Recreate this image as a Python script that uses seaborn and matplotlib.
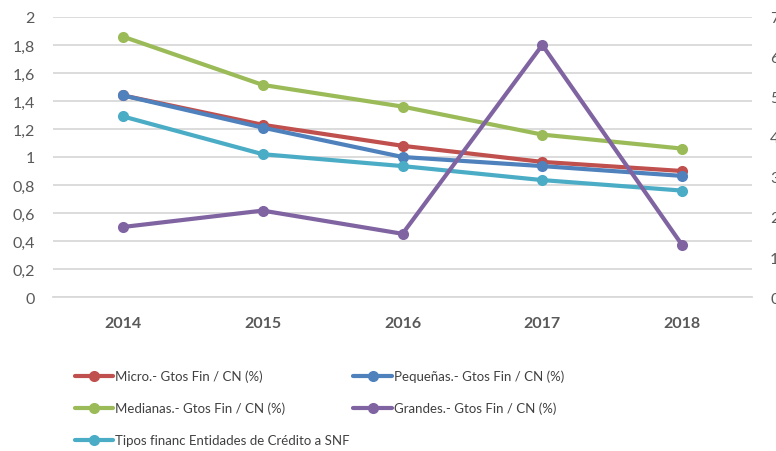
import numpy as np
import pandas as pd
import matplotlib
matplotlib.use("Agg")
import matplotlib.pyplot as plt
import seaborn as sns
from matplotlib.ticker import FuncFormatter

# ---- data ----
years = [2014, 2015, 2016, 2017, 2018]
micro = [1.44, 1.23, 1.08, 0.965, 0.90]
pequenas = [1.44, 1.21, 1.00, 0.935, 0.865]
medianas = [1.86, 1.515, 1.36, 1.16, 1.06]
tipos = [1.29, 1.02, 0.935, 0.835, 0.76]
grandes = [1.75, 2.16, 1.58, 6.3, 1.3]  # secondary axis

names = ["Micro.- Gtos Fin / CN (%)", "Pequeñas.- Gtos Fin / CN (%)",
         "Medianas.- Gtos Fin / CN (%)", "Grandes.- Gtos Fin / CN (%)",
         "Tipos financ Entidades de Crédito a SNF"]
colors = ["#C0504D", "#4F81BD", "#9BBB59", "#8064A2", "#4BACC6"]

left = pd.DataFrame({"year": years * 4,
                     "value": micro + pequenas + medianas + tipos,
                     "serie": [names[0]] * 5 + [names[1]] * 5 + [names[2]] * 5 + [names[4]] * 5})
right = pd.DataFrame({"year": years, "value": grandes, "serie": names[3]})

sns.set_theme(style="white")
plt.rcParams["font.family"] = ["Lato", "DejaVu Sans"]

fig = plt.figure(figsize=(7.76, 4.52), dpi=100)
ax = fig.add_axes([53 / 776, 1 - 298 / 452, 699 / 776, 280 / 452])
ax2 = ax.twinx()

line_kw = dict(linewidth=3, marker="o", markersize=8, markeredgewidth=0)
sns.lineplot(data=left, x="year", y="value", hue="serie",
             palette={n: c for n, c in zip(names, colors)},
             hue_order=[names[0], names[1], names[2], names[4]],
             ax=ax, legend=False, **line_kw)
sns.lineplot(data=right, x="year", y="value", color=colors[3],
             ax=ax2, legend=False, **line_kw)
ax2.set_zorder(ax.get_zorder() + 1)
ax2.patch.set_visible(False)

ax.set_xlim(2013.5, 2018.5)
ax.set_ylim(0, 2)
ax2.set_ylim(0, 7)
ax.set_yticks(np.arange(0, 2.01, 0.2))
ax2.set_yticks(range(8))
ax.set_xticks(years)
ax.yaxis.set_major_formatter(FuncFormatter(lambda v, p: f"{v:.1f}".rstrip("0").rstrip(".").replace(".", ",")))
ax.grid(axis="y", color="#D9D9D9", linewidth=1.3)
ax.set_axisbelow(True)
for a in (ax, ax2):
    for s in a.spines.values():
        s.set_visible(False)
    a.set_xlabel("")
    a.set_ylabel("")
ax.spines["bottom"].set_visible(True)
ax.spines["bottom"].set_color("#D9D9D9")
ax.spines["bottom"].set_linewidth(1.3)

ax.tick_params(axis="y", length=0, pad=13, labelsize=11.5, labelcolor="#595959")
ax2.tick_params(axis="y", length=0, pad=13, labelsize=11.5, labelcolor="#595959")
ax.tick_params(axis="x", length=0, pad=14, labelsize=11.5, labelcolor="#595959")
for t in ax.get_xticklabels():
    t.set_fontweight("bold")

h = {}
for n, c in zip(names, colors):
    h[n] = plt.Line2D([], [], color=c, linewidth=3, marker="o", markersize=8, markeredgewidth=0)
order = [names[0], names[2], names[4], names[1], names[3]]
fig.legend([h[n] for n in order], order, ncol=2, frameon=False,
           loc="upper left", bbox_to_anchor=(68 / 776, 1 - 364 / 452),
           fontsize=9.5, labelcolor="#404040", handlelength=2.9, handletextpad=0.15,
           columnspacing=0.3, labelspacing=1.5, borderpad=0)

fig.savefig("out.png", dpi=100)
